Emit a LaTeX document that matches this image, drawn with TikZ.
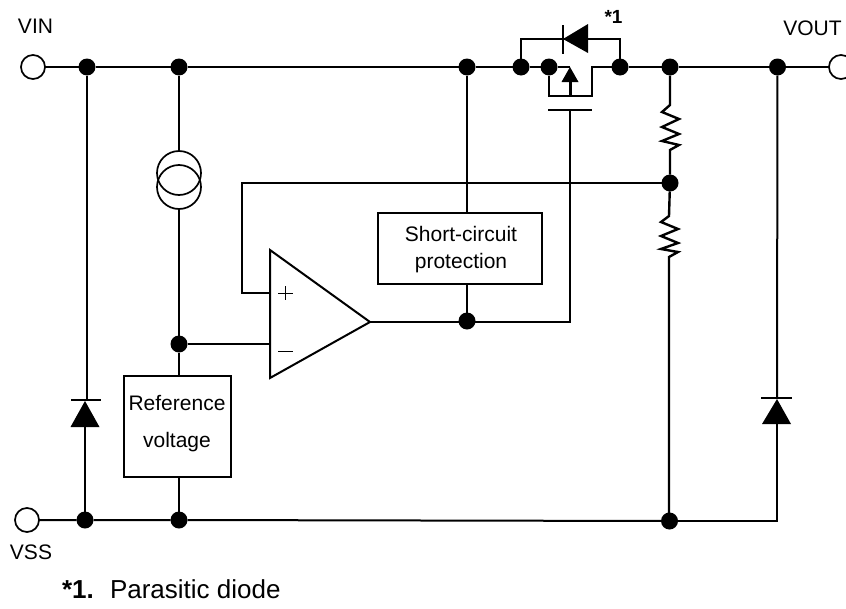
\documentclass[tikz,border=0pt]{standalone}
\usepackage{fontspec}
\setmainfont{Liberation Sans}
\begin{document}
\begin{tikzpicture}[x=1pt,y=-1pt,line width=2pt,
  dotn/.style={circle,fill=black,draw=none,minimum size=17pt,inner sep=0pt,outer sep=0pt},
  term/.style={circle,draw=black,fill=white,line width=1.7pt,minimum size=24pt,inner sep=0pt,outer sep=0pt},
  blockbox/.style={draw=black,line width=2pt,fill=white,inner sep=0pt,outer sep=0pt},
  lbl/.style={font=\fontsize{21}{24}\selectfont,inner sep=0pt,anchor=base}]
\useasboundingbox (0,0) rectangle (846,608);
\clip (0,0) rectangle (846,608);
% terminals
\node[term] (vin) at (33,67) {};
\node[term] (vout) at (841,67) {};
\node[term] (vss) at (27,520) {};
% junctions
\node[dotn] (a1) at (87,67) {};
\node[dotn] (a2) at (179,67) {};
\node[dotn] (a3) at (467,67) {};
\node[dotn] (a4) at (521,67) {};
\node[dotn] (a5) at (549,67) {};
\node[dotn] (a6) at (620,67) {};
\node[dotn] (a7) at (670,67) {};
\node[dotn] (a8) at (777.5,67) {};
\node[dotn] (fb) at (670,183) {};
\node[dotn] (inv) at (179,344) {};
\node[dotn] (outd) at (467,321) {};
\node[dotn] (b1) at (85,520) {};
\node[dotn] (b2) at (179,520) {};
\node[dotn] (b3) at (669.5,521) {};
% blocks
\node[blockbox,minimum width=107pt,minimum height=101pt] (ref) at (177.5,426.5) {};
\node[blockbox,minimum width=164pt,minimum height=71pt] (scp) at (460,248) {};
\node[lbl] at (177,410) {Reference};
\node[lbl] at (177,447) {voltage};
\node[lbl] at (461,241) {Short-circuit};
\node[lbl] at (461,268) {protection};
% coordinates
\coordinate (amptop) at (270,250);
\coordinate (ampbot) at (270,378);
\coordinate (amptip) at (370,322);
\coordinate (plus) at (270,293);
\coordinate (minus) at (270,344);
\coordinate (fbc) at (242,183);
\coordinate (fbd) at (242,293);
\coordinate (srcup) at (179,152);
\coordinate (srclo) at (179,209);
% rails
\draw (vin) -- (a1) -- (a2) -- (a3) -- (a4) -- (a5);
\draw (a6) -- (a7) -- (a8) -- (vout);
\draw (vss) -- (b1) -- (b2) -- (b3);
% opamp
\draw[line join=miter] (amptop) -- (ampbot) -- (amptip) -- cycle;
\draw[line width=1pt] (278,293) -- (293,293) (285.5,286) -- (285.5,300);
\draw[line width=1pt] (278,351) -- (293,351);
\draw (fb) -- (fbc) -- (fbd) -- (plus);
\draw[line width=1.6pt] (inv) -- (minus);
\draw (a2) -- (srcup);
\draw[line width=1.6pt] (srclo) -- (inv);
\draw[line width=1.4pt] (inv) -- (ref.north -| inv);
\draw[line width=1.4pt] (ref.south -| b2) -- (b2);
\draw[line width=1.7pt] (179,173) circle[radius=22];
\draw[line width=1.7pt] (179,187) circle[radius=22];
% short circuit
\draw (a3) -- (scp.north -| a3);
\draw (scp.south -| a3) -- (outd);
% output and gate
\coordinate (gatec) at (570,322);
\coordinate (gate) at (570,110);
\coordinate (gl) at (548,110);
\coordinate (gr) at (592,110);
\draw (amptip) -- (gatec) -- (gate);
\draw (gl) -- (gr);
% MOS
\coordinate (chL) at (549,96);
\coordinate (chR) at (592,96);
\coordinate (chU) at (592,67);
\coordinate (chM) at (570,96);
\coordinate (chT) at (570,67);
\draw (a5) -- (chT);
\draw (a5) -- (chL) -- (chR) -- (chU) -- (a6);
\draw[line width=3pt] (chM) -- (570,80);
\fill (570,67) -- (578.5,82) -- (561.5,82) -- cycle;
% parasitic diode
\coordinate (pdL) at (520,39);
\coordinate (pdR) at (620,39);
\draw (a4.center) -- (a4.center |- pdL) -- (pdR) -- (a6);
\draw (563,25) -- (563,54);
\fill (563,39) -- (588,24) -- (588,53) -- cycle;
% resistors
\draw[line join=miter,line width=2.4pt] (a7) -- (670,105) -- (662,112) -- (679,119) -- (662,127) -- (679,134) -- (662,141) -- (679,145) -- (670,150) -- (fb);
\draw[line join=miter,line width=2.4pt] (fb) -- (669,216) -- (661,222) -- (678,229) -- (661,236) -- (678,243) -- (661,249) -- (678,252) -- (669,257) -- (669,515);
\draw[line width=2.4pt] (669,515) -- (b3);
% left diode
\coordinate (ldk) at (86,400);
\draw (a1) -- (87,400);
\draw (71,400) -- (101,400);
\fill (85,401) -- (99.5,427) -- (70.5,427) -- cycle;
\draw (85,425) -- (b1);
% right diode
\coordinate (rdbot) at (777,521);
\draw (a8) -- (777,398);
\draw (761,398) -- (792,398);
\fill (777,399) -- (791,424) -- (762,424) -- cycle;
\draw (777,420) -- (rdbot) -- (b3);
% labels
\node[lbl] at (35.5,33) {VIN};
\node[lbl] at (812.5,35) {VOUT};
\node[lbl] at (31,559) {VSS};
\node[lbl,font=\fontsize{19}{21}\selectfont\bfseries] at (613.5,23) {*1};
\node[lbl,anchor=base west,font=\fontsize{26}{30}\selectfont] at (61,598) {\textbf{*1.}};
\node[lbl,anchor=base west,font=\fontsize{26}{30}\selectfont] at (109,598) {Parasitic diode};
\end{tikzpicture}
\end{document}
